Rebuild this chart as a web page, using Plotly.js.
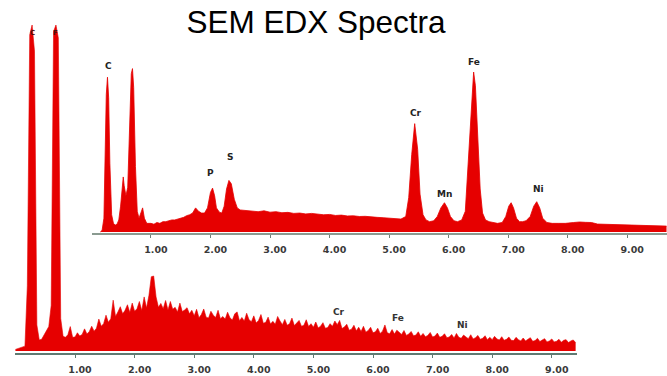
<!DOCTYPE html>
<html>
<head>
<meta charset="utf-8">
<script src="https://cdn.plot.ly/plotly-3.0.1.min.js"></script>
<style>html,body{margin:0;padding:0;background:#fff;}#chart{width:667px;height:376px;}</style>
</head>
<body>
<div id="chart"></div>
<script>
// ---- Main (lower) spectrum: channel grid and counts ----
var mainStartKeV = 0.0;
var mainStepKeV = 0.04;
var mainCounts = [
0.5,0.8,1.0,1.2,1.5,20,97,100,92,8,
3.4,3.6,5,6.5,7.5,14,98,100,96,10,
4.5,4.2,5,7.5,4.2,
4.3,5.6,4.6,5.1,6.8,5.2,6,7.6,6.1,7,
9.8,7.6,8.4,11,8.8,9.9,15.6,10.6,12,13.6,
11.4,12.5,14.2,11.8,14.7,12.2,13,15.2,12.4,16.6,
13.2,17,22.8,23,16.6,13.4,14.6,13,15.5,12.6,
15.2,12.8,13.4,12,14.7,12.1,12.6,13.3,11.4,12.5,
10.8,12.8,10.2,11.2,12.9,10.4,10.1,12.2,11,10.3,
12.5,9.9,10.6,9.8,11.9,10.2,9.5,11.4,12,9.3,
10.3,9.2,11.6,9.6,9,10.8,8.6,9.4,11.2,8.5,
8.8,10.4,8.3,9.1,8.2,10.6,9.2,8.1,9.7,7.9,
8.4,10.1,7.8,8.6,9.4,7.6,7.9,9.6,7.5,8.4,
7.3,8.9,7.1,7.6,8.7,7,7.2,8.4,7.6,9.2,
8.1,9.4,6.9,7.4,8.2,6.4,6.7,7.9,6.2,7.3,
6,7.6,5.8,6.3,7.3,5.6,5.9,7,5.4,6.1,
8,5.6,5.3,6.6,5.2,6.4,5.6,5.1,6.3,4.8,
5.2,6,4.7,4.9,5.9,4.5,5.4,4.4,4.8,5.7,
4.3,4.6,5.5,4.2,4.5,5.3,4.1,4.3,5.1,4,
5.4,4.2,3.9,4.9,4.3,3.8,5,3.7,4.1,4.8,
3.6,3.9,4.7,3.5,4.2,3.5,4.5,3.7,3.4,4.4,
3.3,3.6,4.3,3.3,3.2,4.2,3.5,3.1,4,3.1,
3.6,4.1,3,3.2,3.9,2.9,3.4,3.8,2.8,3.1,
3.7,2.8,3,3.6,2.7,3.3,3.5,2.6,3.1,3.4,2.6
];

// ---- Inset (upper) spectrum: energies (keV) and counts ----
var insetEnergy = [
0.15,0.18,0.21,0.23,0.25,0.27,0.29,0.31,0.34,0.37,
0.40,0.43,0.46,0.49,0.52,0.535,0.55,0.58,0.61,0.64,
0.67,0.69,0.71,0.74,0.77,0.80,0.83,0.86,0.89,0.93,
1.00,1.05,1.10,1.15,1.20,1.25,1.30,1.35,1.40,1.45,
1.50,1.55,1.60,1.65,1.70,1.75,1.80,1.85,1.90,1.95,
2.00,2.035,2.07,2.10,2.15,2.19,2.23,2.27,2.31,2.35,
2.40,2.45,2.50,2.6,2.7,2.8,2.9,3.0,3.1,3.2,
3.3,3.4,3.5,3.6,3.7,3.8,3.9,4.0,4.1,4.2,
4.3,4.4,4.5,4.6,4.7,4.8,4.9,5.0,5.1,5.2,
5.28,5.33,5.38,5.43,5.48,5.52,5.57,5.62,5.68,5.75,
5.81,5.87,5.93,5.98,6.03,6.09,6.15,6.22,6.28,6.32,
6.36,6.40,6.42,6.45,6.49,6.53,6.57,6.62,6.68,6.75,
6.82,6.90,6.96,7.01,7.05,7.09,7.14,7.19,7.24,7.30,
7.37,7.43,7.48,7.53,7.58,7.65,7.74,7.85,7.96,8.1,
8.2,8.3,8.4,8.5,8.6,8.75,8.9,9.0,9.15,9.3,
9.45,9.6,9.66
];
var insetCounts = [
0,1,8,45,80,90,78,40,10,5,
4,4.5,7,15,29,32,27,21,26,60,
92,95,84,38,12,8,11,14,8,5,
5,4.5,5.5,5,6,6,6.5,7,7,7.5,
8,8.5,9.5,10,11,14,12,11,11,14,
23,25.5,21,14,11.5,11,15,25,30,28,
19,14,12.8,12.5,12,11.8,12.3,11.5,11.8,11.2,
11.4,10.8,11,10.5,10.8,10.2,10,10.2,9.6,9.8,
9.3,9.4,9,9.1,8.6,8.5,8.3,8,7.6,7.5,
9,20,45,63,48,22,10,7,6,6.5,
9,14,17,14,9,6.5,6,7,12,35,
65,88,93,85,55,25,11,7,6,5.5,
5,5.5,9,15,17,14,8,6,6,6.5,
9,15,17.6,14,8,5.5,5,5,5,5.5,
5.8,5.6,5.5,4.6,4.5,4,4,3.8,3.7,3.5,
3.5,3.4,3.4
];

// ---- Axis ticks ----
var tickValues = [1,2,3,4,5,6,7,8,9];
var tickLabels = ["1.00","2.00","3.00","4.00","5.00","6.00","7.00","8.00","9.00"];

// ---- Peak labels ----
var insetPeakNames = ["C","F","P","S","Cr","Mn","Fe","Ni"];
var insetPeakEnergy = [0.28,0.70,2.00,2.33,5.45,5.93,6.42,7.51];
var insetPeakLabelY = [96.5,101.7,34.3,43.6,69.2,22.1,98.8,25];
var mainTopNames = ["C","F"];
var mainTopEnergy = [0.28,0.68];
var mainTopLabelY = [97.5,97.5];
var mainPeakNames = ["Cr","Fe","Ni"];
var mainPeakEnergy = [5.43,6.42,7.51];
var mainPeakLabelY = [12,10.1,8];

var mainEnergy = mainCounts.map(function(_, i){ return +(mainStartKeV + i*mainStepKeV).toFixed(3); });

var red = '#e60000';
var traces = [
  {x: mainEnergy, y: mainCounts, type: 'scatter', mode: 'lines', fill: 'tozeroy',
   line: {color: red, width: 0.6}, fillcolor: red, xaxis: 'x', yaxis: 'y', hoverinfo: 'skip'},
  {x: insetEnergy, y: insetCounts, type: 'scatter', mode: 'lines', fill: 'tozeroy',
   line: {color: red, width: 0.8}, fillcolor: red, xaxis: 'x2', yaxis: 'y2', hoverinfo: 'skip'}
];

var tickFont = {family: 'DejaVu Sans', size: 9.5, color: '#3a3a3a', weight: 'bold'};
var annotations = [];
insetPeakNames.forEach(function(n, i){
  annotations.push({text: n, x: insetPeakEnergy[i], y: insetPeakLabelY[i], xref: 'x2', yref: 'y2',
    showarrow: false, xanchor: 'center', yanchor: 'middle',
    font: {family: 'DejaVu Sans', size: 9, color: '#222', weight: 'bold'}});
});
mainTopNames.forEach(function(n, i){
  annotations.push({text: n, x: mainTopEnergy[i], y: mainTopLabelY[i], xref: 'x', yref: 'y',
    showarrow: false, xanchor: 'center', yanchor: 'middle',
    font: {family: 'DejaVu Sans', size: 7, color: '#4a1010', weight: 'bold'}});
});
mainPeakNames.forEach(function(n, i){
  annotations.push({text: n, x: mainPeakEnergy[i], y: mainPeakLabelY[i], xref: 'x', yref: 'y',
    showarrow: false, xanchor: 'center', yanchor: 'middle',
    font: {family: 'DejaVu Sans', size: 9, color: '#333', weight: 'bold'}});
});

var layout = {
  width: 667, height: 376,
  margin: {l: 0, r: 0, t: 0, b: 0, pad: 0},
  paper_bgcolor: '#ffffff', plot_bgcolor: '#ffffff',
  showlegend: false,
  title: {text: 'SEM EDX Spectra', x: 316/667, y: 1 - 22/376, xanchor: 'center', yanchor: 'middle',
          font: {family: 'Liberation Sans, Arial, sans-serif', size: 31.5, color: '#000'}},
  xaxis: {domain: [15/667, 577/667], range: [-0.007, 9.423], anchor: 'y',
          showgrid: false, zeroline: false, showline: true, linecolor: '#5f7a72', linewidth: 2,
          tickmode: 'array', tickvals: tickValues, ticktext: tickLabels,
          ticks: 'outside', ticklen: 3, tickcolor: '#5f7a72', tickwidth: 1,
          tickfont: tickFont, ticklabelshift: 5, ticklabelstandoff: 4, fixedrange: true},
  yaxis: {domain: [1 - 353/376, 1 - 25/376], range: [-0.6, 100], anchor: 'x',
          visible: false, showgrid: false, zeroline: false, fixedrange: true},
  xaxis2: {domain: [92/667, 1], range: [0.01, 9.668], anchor: 'y2',
          showgrid: false, zeroline: false, showline: true, linecolor: '#8a9a90', linewidth: 2,
          tickmode: 'array', tickvals: tickValues, ticktext: tickLabels,
          ticks: 'outside', ticklen: 3, tickcolor: '#6f8078', tickwidth: 1,
          tickfont: tickFont, ticklabelshift: 5, ticklabelstandoff: 4, fixedrange: true},
  yaxis2: {domain: [1 - 233/376, 1 - 60/376], range: [-0.6, 100], anchor: 'x2',
          visible: false, showgrid: false, zeroline: false, fixedrange: true},
  annotations: annotations
};

Plotly.newPlot('chart', traces, layout, {displayModeBar: false, staticPlot: true});
</script>
</body>
</html>
